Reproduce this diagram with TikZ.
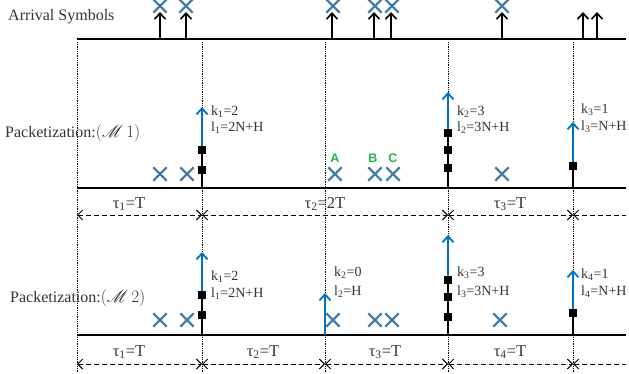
\documentclass[tikz,border=0pt]{standalone}
\usepackage{fontspec}
\setmainfont{Liberation Serif}
\newfontfamily\lettersans{Liberation Sans}
\usepackage{mathrsfs}
\usepackage{tkz-euclide}
\usetikzlibrary{arrows.meta, shapes.misc}

\definecolor{crossblue}{RGB}{74,126,170}
\definecolor{pktblue}{RGB}{0,112,192}
\definecolor{letgreen}{RGB}{43,178,76}

\tikzset{
  axis/.style={line width=2.2pt},
  guide/.style={densely dotted, line width=0.8pt},
  arrival/.style={line width=1.6pt, -{Straight Barb[length=6pt,width=11pt]}},
  xmark/.style={cross out, draw=crossblue, line width=2.4pt, minimum size=11pt, inner sep=0pt},
  stem/.style={line width=2.4pt},
  sym/.style={fill=black, minimum size=8pt, inner sep=0pt},
  pkt/.style={draw=pktblue, line width=1.8pt, -{Straight Barb[length=6pt,width=11pt]}},
  span/.style={dash pattern=on 5pt off 3pt, line width=0.9pt,
    {Straight Barb[length=5pt,width=10pt]}-{Straight Barb[length=5pt,width=10pt]}},
  openspan/.style={dash pattern=on 5pt off 3pt, line width=0.9pt,
    {Straight Barb[length=5pt,width=10pt]}-},
  info/.style={anchor=west, inner sep=0pt, text=black!80, font=\fontsize{14}{16}\selectfont},
  slot/.style={inner sep=0pt, text=black!80, font=\fontsize{16.5}{18}\selectfont},
  title/.style={anchor=west, inner sep=0pt, text=black!80, font=\fontsize{16}{18}\selectfont},
  letter/.style={text=letgreen, inner sep=0pt, font=\lettersans\bfseries\fontsize{12.5}{14}\selectfont}
}

\begin{document}
\begin{tikzpicture}[x=1pt, y=-1pt]
\useasboundingbox (0,0) rectangle (629,374);
\tkzDefPoints{77/39/A0, 626/39/A1, 77/188/B0, 626/188/B1, 77/335/C0, 626/335/C1}
\tkzDefPoints{202/188/P1, 448/188/P2, 573/188/P3}
\tkzDefPoints{202/335/Q1, 325/335/Q2, 448/335/Q3, 573/335/Q4}

% slot boundaries
\foreach \x in {77,202,325,448,573}
  \draw[guide] (\x,42) -- (\x,372);

% arrival symbols
\node[title] (arr) at (8,17) {Arrival Symbols};
\draw[axis] (A0) -- (A1);
\foreach \x [count=\i] in {160,186,332,374,391,502,583,597} {
  \coordinate (r\i) at (\x,39);
  \draw[arrival] (r\i) -- ++(0,-27);
}
\foreach \x [count=\i] in {160,186,333,375,392,502}
  \node[xmark] (x\i) at (\x,6) {};

% packetization M1
\node[title] (m1) at (5,133) {Packetization:$(\mathscr{M}\,1)$};
\draw[axis] (B0) -- (B1);
\foreach \x [count=\i] in {160,187,335,375,393,502}
  \node[xmark] (y\i) at (\x,174) {};
\node[letter] (la) at (335,158) {A};
\node[letter] (lb) at (373,158) {B};
\node[letter] (lc) at (393,158) {C};

\node[sym] (a1) at (202,170) {};
\node[sym] (a2) at (202,150) {};
\draw[stem] (P1) -- (a2.center);
\node[sym] at (a1) {};
\node[sym] at (a2) {};
\coordinate (u1) at (202,107);
\draw[pkt] (a2.north) -- (u1);
\node[info] (k11) at (211,112) {k\textsubscript{1}=2};
\node[info] (l11) at (211,128) {l\textsubscript{1}=2N+H};

\node[sym] (b1) at (448,168) {};
\node[sym] (b2) at (448,150) {};
\node[sym] (b3) at (448,133) {};
\draw[stem] (P2) -- (b3.center);
\node[sym] at (b1) {};
\node[sym] at (b2) {};
\node[sym] at (b3) {};
\coordinate (u2) at (448,92);
\draw[pkt] (b3.north) -- (u2);
\node[info] (k12) at (457,112) {k\textsubscript{2}=3};
\node[info] (l12) at (457,128) {l\textsubscript{2}=3N+H};

\node[sym] (c1) at (573,166) {};
\draw[stem] (P3) -- (c1.center);
\node[sym] at (c1) {};
\coordinate (u3) at (573,122);
\draw[pkt] (c1.north) -- (u3);
\node[info] (k13) at (581,110) {k\textsubscript{3}=1};
\node[info] (l13) at (581,127) {l\textsubscript{3}=N+H};

% slot lengths M1
\tkzDefPoints{77/215/D0, 202/215/D1, 448/215/D2, 573/215/D3, 626/215/D4}
\draw[span] (D0) -- (D1);
\draw[span] (D1) -- (D2);
\draw[span] (D2) -- (D3);
\draw[openspan] (D3) -- (D4);
\node[slot] (t11) at (129,204) {τ\textsubscript{1}=T};
\node[slot] (t12) at (325,204) {τ\textsubscript{2}=2T};
\node[slot] (t13) at (510,204) {τ\textsubscript{3}=T};

% packetization M2
\node[title] (m2) at (10,298) {Packetization:$(\mathscr{M}\,2)$};
\draw[axis] (C0) -- (C1);
\foreach \x [count=\i] in {160,187,333,375,392,500}
  \node[xmark] (z\i) at (\x,320) {};

\node[sym] (d1) at (202,315) {};
\node[sym] (d2) at (202,295) {};
\draw[stem] (Q1) -- (d2.center);
\node[sym] at (d1) {};
\node[sym] at (d2) {};
\coordinate (v1) at (202,252);
\draw[pkt] (d2.north) -- (v1);
\node[info] (k21) at (211,277) {k\textsubscript{1}=2};
\node[info] (l21) at (211,294) {l\textsubscript{1}=2N+H};

\coordinate (v2) at (325,293);
\draw[pkt] (Q2) -- (v2);
\node[info] (k22) at (334,273) {k\textsubscript{2}=0};
\node[info] (l22) at (334,292) {l\textsubscript{2}=H};

\node[sym] (e1) at (448,317) {};
\node[sym] (e2) at (448,297) {};
\node[sym] (e3) at (448,280) {};
\draw[stem] (Q3) -- (e3.center);
\node[sym] at (e1) {};
\node[sym] at (e2) {};
\node[sym] at (e3) {};
\coordinate (v3) at (448,235);
\draw[pkt] (e3.north) -- (v3);
\node[info] (k23) at (457,273) {k\textsubscript{3}=3};
\node[info] (l23) at (457,292) {l\textsubscript{3}=3N+H};

\node[sym] (f1) at (573,313) {};
\draw[stem] (Q4) -- (f1.center);
\node[sym] at (f1) {};
\coordinate (v4) at (573,270);
\draw[pkt] (f1.north) -- (v4);
\node[info] (k24) at (581,275) {k\textsubscript{4}=1};
\node[info] (l24) at (581,292) {l\textsubscript{4}=N+H};

% slot lengths M2
\tkzDefPoints{77/364/E0, 202/364/E1, 325/364/E2, 448/364/E3, 573/364/E4, 626/364/E5}
\draw[span] (E0) -- (E1);
\draw[span] (E1) -- (E2);
\draw[span] (E2) -- (E3);
\draw[span] (E3) -- (E4);
\draw[openspan] (E4) -- (E5);
\node[slot] (t21) at (129,352) {τ\textsubscript{1}=T};
\node[slot] (t22) at (263,352) {τ\textsubscript{2}=T};
\node[slot] (t23) at (385,352) {τ\textsubscript{3}=T};
\node[slot] (t24) at (510,352) {τ\textsubscript{4}=T};
\end{tikzpicture}
\end{document}
